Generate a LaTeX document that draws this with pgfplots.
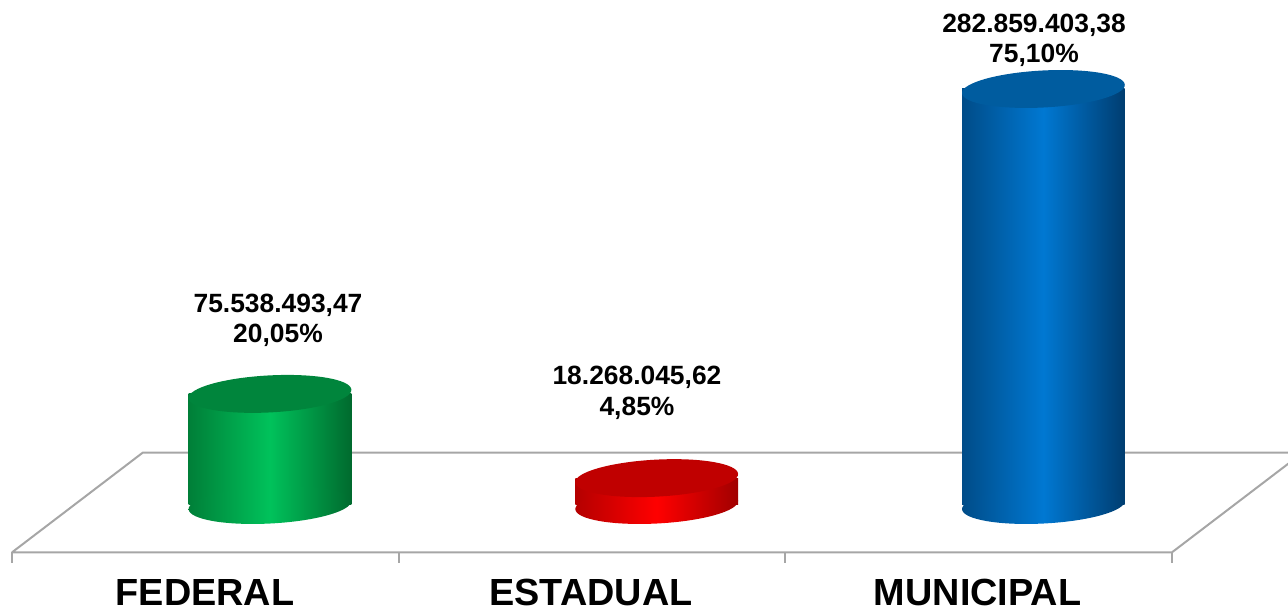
\documentclass[border=0pt]{standalone}
\usepackage{fontspec}
\setmainfont{Liberation Sans}
\usepackage{pgfplots}
\pgfplotsset{compat=1.18}
\usetikzlibrary{shapes.geometric}

\definecolor{gDarkL}{HTML}{007F38}
\definecolor{gBright}{HTML}{00C25B}
\definecolor{gDark}{HTML}{006A2E}
\definecolor{gTop}{HTML}{00853C}
\definecolor{rDarkL}{HTML}{B40000}
\definecolor{rBright}{HTML}{FF0000}
\definecolor{rDark}{HTML}{A00000}
\definecolor{rTop}{HTML}{C00000}
\definecolor{bDarkL}{HTML}{004C88}
\definecolor{bBright}{HTML}{0078D2}
\definecolor{bDark}{HTML}{003D70}
\definecolor{bTop}{HTML}{005C9F}
\definecolor{floorc}{HTML}{A6A6A6}

\tikzset{ell/.style={shape=ellipse, inner sep=0pt, minimum width=81.5pt,
  minimum height=18.5pt, rotate=3, anchor=center, draw=none}}

\begin{document}
\begin{tikzpicture}
\begin{axis}[
  set layers,
  scale only axis, width=644pt, height=305pt,
  xmin=-0.6982, xmax=2.6325, ymin=-71.39e6, ymax=343.37e6,
  axis lines=none,
  nodes near coords align={center},
]
% floor
\addplot[on layer=axis background, draw=floorc, line width=1pt, mark=none, line join=miter]
  coordinates {(-0.667,-32.16e6) (2.3326,-32.16e6) (2.6705,35.56e6) (-0.3292,35.56e6) (-0.667,-32.16e6)};
\addplot[on layer=axis background, draw=floorc, line width=1pt, mark=none] coordinates {(-0.667,-32.16e6) (-0.667,-39.23e6)};
\addplot[on layer=axis background, draw=floorc, line width=1pt, mark=none] coordinates {(0.333,-32.16e6) (0.333,-39.23e6)};
\addplot[on layer=axis background, draw=floorc, line width=1pt, mark=none] coordinates {(1.333,-32.16e6) (1.333,-39.23e6)};
\addplot[on layer=axis background, draw=floorc, line width=1pt, mark=none] coordinates {(2.3326,-32.16e6) (2.3326,-39.23e6)};

% bottom ellipses
\addplot[on layer=axis background, draw=none, mark=none, nodes near coords={\mbox{}},
  every node near coord/.style={ell, left color=gDarkL, right color=gDark, middle color=gBright}]
  coordinates {(0,0)};
\addplot[on layer=axis background, draw=none, mark=none, nodes near coords={\mbox{}},
  every node near coord/.style={ell, left color=rDarkL, right color=rDark, middle color=rBright}]
  coordinates {(1,0)};
\addplot[on layer=axis background, draw=none, mark=none, nodes near coords={\mbox{}},
  every node near coord/.style={ell, left color=bDarkL, right color=bDark, middle color=bBright}]
  coordinates {(2,0)};

% bodies
\addplot[ybar, bar width=81.3pt, bar shift=0pt, draw=none,
  left color=gDarkL, right color=gDark, middle color=gBright]
  coordinates {(0,75538493.47)};
\addplot[ybar, bar width=81.3pt, bar shift=0pt, draw=none,
  left color=rDarkL, right color=rDark, middle color=rBright]
  coordinates {(1,18268045.62)};
\addplot[ybar, bar width=81.3pt, bar shift=0pt, draw=none,
  left color=bDarkL, right color=bDark, middle color=bBright]
  coordinates {(2,282859403.38)};

% top ellipses
\addplot[draw=none, mark=none, nodes near coords={\mbox{}},
  every node near coord/.style={ell, fill=gTop}]
  coordinates {(0,75538493.47)};
\addplot[draw=none, mark=none, nodes near coords={\mbox{}},
  every node near coord/.style={ell, fill=rTop}]
  coordinates {(1,18268045.62)};
\addplot[draw=none, mark=none, nodes near coords={\mbox{}},
  every node near coord/.style={ell, fill=bTop}]
  coordinates {(2,282859403.38)};

% value labels
\tikzset{vl/.style={anchor=base, font=\bfseries\fontsize{13.2}{15}\selectfont, inner sep=0pt}}
\node[vl] at (axis cs:0.0207,130.55e6) {75.538.493,47};
\node[vl] at (axis cs:0.0207,110.15e6) {20,05\%};
\node[vl] at (axis cs:0.949,81.59e6) {18.268.045,62};
\node[vl] at (axis cs:0.949,60.86e6) {4,85\%};
\node[vl] at (axis cs:1.9757,321.6e6) {282.859.403,38};
\node[vl] at (axis cs:1.9757,301.2e6) {75,10\%};

% category labels
\tikzset{cl/.style={anchor=base, font=\bfseries\fontsize{18.9}{22}\selectfont, inner sep=0pt}}
\node[cl] at (axis cs:-0.1681,-68.0e6) {FEDERAL};
\node[cl] at (axis cs:0.8301,-68.0e6) {ESTADUAL};
\node[cl] at (axis cs:1.8296,-68.0e6) {MUNICIPAL};
\end{axis}
\pgfresetboundingbox
\useasboundingbox (current axis.south west) rectangle (current axis.north east);
\end{tikzpicture}
\end{document}
